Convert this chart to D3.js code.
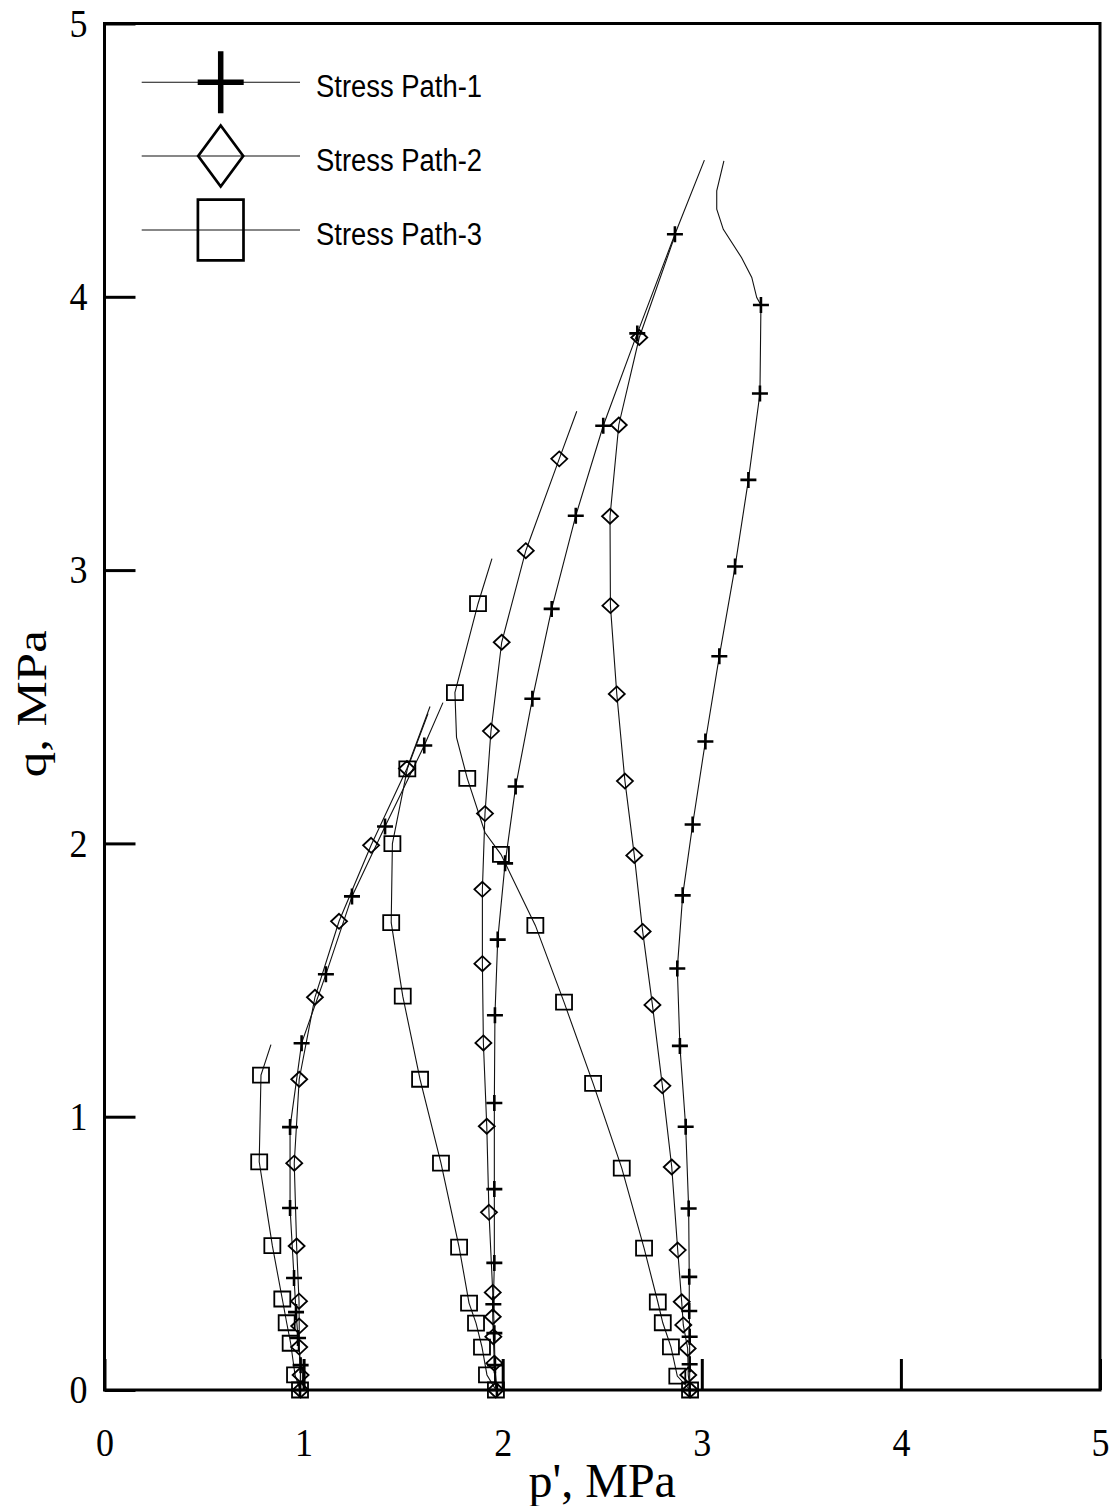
<!DOCTYPE html>
<html>
<head>
<meta charset="utf-8">
<script src="https://cdn.jsdelivr.net/npm/d3@7"></script>
<style>
  html, body { margin: 0; padding: 0; background: #fff; }
  svg { display: block; }
</style>
</head>
<body>
<script>
// Axis ticks
const xTicks = [0, 1, 2, 3, 4, 5];
const yTicks = [0, 1, 2, 3, 4, 5];
const xTitle = "p', MPa";
const yTitle = "q, MPa";
const seriesNames = ["Stress Path-1", "Stress Path-2", "Stress Path-3"];

// Stress paths: [p', q, marked]; marked = 1 where a symbol sits on the record
const sp1_c1 = [[0.982,0,1],[0.985,0.091,1],[0.972,0.190,1],[0.962,0.285,1],[0.952,0.410,1],[0.932,0.666,1],[0.932,0.962,1],[0.990,1.269,1],[1.112,1.521,1],[1.243,1.806,1],[1.409,2.062,1],[1.606,2.358,1],[1.700,2.515,0]];
const sp1_c2 = [[1.971,0,1],[1.961,0.091,1],[1.958,0.208,1],[1.953,0.314,1],[1.958,0.465,1],[1.958,0.735,1],[1.958,1.050,1],[1.961,1.371,1],[1.975,1.648,1],[2.012,1.927,1],[2.065,2.208,1],[2.149,2.529,1],[2.246,2.858,1],[2.367,3.199,1],[2.505,3.528,1],[2.676,3.866,1],[2.865,4.229,1],[3.013,4.500,0]];
const sp1_c3 = [[2.939,0,1],[2.939,0.094,1],[2.939,0.195,1],[2.937,0.289,1],[2.937,0.414,1],[2.934,0.664,1],[2.919,0.963,1],[2.890,1.259,1],[2.877,1.542,1],[2.904,1.810,1],[2.954,2.069,1],[3.018,2.373,1],[3.088,2.685,1],[3.167,3.013,1],[3.234,3.330,1],[3.292,3.646,1],[3.297,3.970,1],[3.276,3.997,0],[3.251,4.071,0],[3.200,4.143,0],[3.108,4.247,0],[3.075,4.321,0],[3.075,4.388,0],[3.111,4.497,0]];

const sp2_c1 = [[0.985,0,1],[0.985,0.055,1],[0.978,0.157,1],[0.978,0.234,1],[0.977,0.325,1],[0.965,0.527,1],[0.953,0.830,1],[0.978,1.137,1],[1.057,1.437,1],[1.178,1.715,1],[1.339,1.993,1],[1.519,2.274,1],[1.635,2.501,0]];
const sp2_c2 = [[1.965,0,1],[1.958,0.098,1],[1.953,0.195,1],[1.950,0.268,1],[1.950,0.357,1],[1.931,0.650,1],[1.920,0.965,1],[1.903,1.270,1],[1.898,1.560,1],[1.898,1.832,1],[1.911,2.109,1],[1.941,2.411,1],[1.995,2.736,1],[2.116,3.071,1],[2.284,3.407,1],[2.372,3.581,0]];
const sp2_c3 = [[2.941,0,1],[2.932,0.055,1],[2.929,0.152,1],[2.907,0.238,1],[2.899,0.323,1],[2.879,0.512,1],[2.849,0.816,1],[2.802,1.113,1],[2.752,1.409,1],[2.703,1.678,1],[2.661,1.956,1],[2.614,2.228,1],[2.573,2.547,1],[2.541,2.870,1],[2.539,3.197,1],[2.583,3.531,1],[2.686,3.851,1],[2.870,4.234,0]];

const sp3_c1 = [[0.982,0,1],[0.957,0.055,1],[0.935,0.171,1],[0.915,0.246,1],[0.893,0.333,1],[0.843,0.528,1],[0.777,0.835,1],[0.786,1.152,1],[0.836,1.264,0]];
const sp3_c2 = [[1.966,0,1],[1.921,0.055,1],[1.896,0.157,1],[1.866,0.245,1],[1.831,0.318,1],[1.781,0.523,1],[1.690,0.830,1],[1.585,1.137,1],[1.498,1.441,1],[1.440,1.710,1],[1.446,1.999,1],[1.521,2.273,1],[1.625,2.475,0]];
const sp3_c3 = [[2.941,0,1],[2.877,0.051,1],[2.845,0.158,1],[2.804,0.246,1],[2.779,0.322,1],[2.710,0.519,1],[2.598,0.812,1],[2.454,1.122,1],[2.308,1.419,1],[2.164,1.700,1],[1.991,1.960,1],[1.911,2.040,0],[1.822,2.238,1],[1.768,2.388,0],[1.760,2.552,1],[1.876,2.877,1],[1.946,3.042,0]];

const groups = [
  { name: seriesNames[0], symbol: "plus",    curves: [sp1_c1, sp1_c2, sp1_c3] },
  { name: seriesNames[1], symbol: "diamond", curves: [sp2_c1, sp2_c2, sp2_c3] },
  { name: seriesNames[2], symbol: "square",  curves: [sp3_c1, sp3_c2, sp3_c3] }
];

const W = 1117, H = 1506;
const x = d3.scaleLinear().domain([0, 5]).range([104.5, 1100]);
const y = d3.scaleLinear().domain([0, 5]).range([1390, 23.5]);

const svg = d3.select("body").append("svg").attr("width", W).attr("height", H);

const serif = "'Liberation Serif', 'Times New Roman', Times, serif";
const narrow = "'Liberation Sans Narrow', 'Arial Narrow', 'Liberation Sans', Arial, sans-serif";

// Symbol outlines, w x h box centred on the point
function symbolPath(type, w, h) {
  const a = w / 2, b = h / 2;
  if (type === "plus") return `M${-a},0H${a}M0,${-b}V${b}`;
  if (type === "diamond") return `M0,${-b}L${a},0L0,${b}L${-a},0Z`;
  return `M${-a},${-b}H${a}V${b}H${-a}Z`;
}
const markStyle = {
  plus:    { w: 16, h: 16, sw: 2.6 },
  diamond: { w: 16, h: 15, sw: 1.8 },
  square:  { w: 16, h: 15, sw: 1.8 }
};

// Axes: inward ticks on the bottom and left
const xAxis = d3.axisBottom(x).tickValues(xTicks).tickSizeInner(-31).tickSizeOuter(0).tickPadding(38).tickFormat(d3.format("d"));
const yAxis = d3.axisLeft(y).tickValues(yTicks).tickSizeInner(-31).tickSizeOuter(0).tickPadding(17).tickFormat(d3.format("d"));

const gx = svg.append("g").attr("transform", `translate(0,${y(0)})`).call(xAxis);
const gy = svg.append("g").attr("transform", `translate(${x(0)},0)`).call(yAxis);
[gx, gy].forEach(g => {
  g.select(".domain").remove();
  g.selectAll(".tick line").attr("stroke", "#000").attr("stroke-width", 3);
  g.selectAll(".tick text")
    .attr("fill", "#000")
    .style("font-family", serif)
    .style("font-size", "40px")
    .attr("textLength", 18)
    .attr("lengthAdjust", "spacingAndGlyphs");
});

// Frame
svg.append("rect")
  .attr("x", x(0)).attr("y", y(5))
  .attr("width", x(5) - x(0)).attr("height", y(0) - y(5))
  .attr("fill", "none").attr("stroke", "#000").attr("stroke-width", 3);

// Data lines
const line = d3.line().x(d => x(d[0])).y(d => y(d[1]));
const plot = svg.append("g");
groups.forEach(g => {
  g.curves.forEach(c => {
    plot.append("path").datum(c)
      .attr("d", line)
      .attr("fill", "none").attr("stroke", "#111").attr("stroke-width", 1.1);
  });
});
groups.forEach(g => {
  const st = markStyle[g.symbol];
  g.curves.forEach(c => {
    plot.selectAll(null).data(c.filter(d => d[2] === 1)).join("path")
      .attr("transform", d => `translate(${x(d[0])},${y(d[1])})`)
      .attr("d", symbolPath(g.symbol, st.w, st.h))
      .attr("fill", "none").attr("stroke", "#000").attr("stroke-width", st.sw);
  });
});

// Axis titles
svg.append("text")
  .attr("x", (x(0) + x(5)) / 2).attr("y", 1497)
  .attr("text-anchor", "middle")
  .style("font-family", serif).style("font-size", "48px")
  .text(xTitle);
svg.append("text")
  .attr("transform", `translate(46,${(y(0) + y(5)) / 2 - 3}) rotate(-90)`)
  .attr("text-anchor", "middle")
  .style("font-family", serif).style("font-size", "42px")
  .attr("textLength", 147).attr("lengthAdjust", "spacingAndGlyphs")
  .text(yTitle);

// Legend
const legendY = [82.3, 156, 230];
const legendMark = {
  plus:    { w: 46, h: 62, sw: 5.5 },
  diamond: { w: 45, h: 61, sw: 2.7 },
  square:  { w: 45.6, h: 60.7, sw: 2.7 }
};
const legend = svg.append("g");
groups.forEach((g, i) => {
  const ly = legendY[i];
  legend.append("line")
    .attr("x1", 141.7).attr("x2", 300).attr("y1", ly).attr("y2", ly)
    .attr("stroke", "#111").attr("stroke-width", 1.1);
  const st = legendMark[g.symbol];
  legend.append("path")
    .attr("transform", `translate(220.7,${ly})`)
    .attr("d", symbolPath(g.symbol, st.w, st.h))
    .attr("fill", "none").attr("stroke", "#000").attr("stroke-width", st.sw);
  legend.append("text")
    .attr("x", 316).attr("y", ly + 14.5)
    .style("font-family", narrow).style("font-size", "31px")
    .attr("textLength", 166).attr("lengthAdjust", "spacingAndGlyphs")
    .text(g.name);
});
</script>
</body>
</html>
